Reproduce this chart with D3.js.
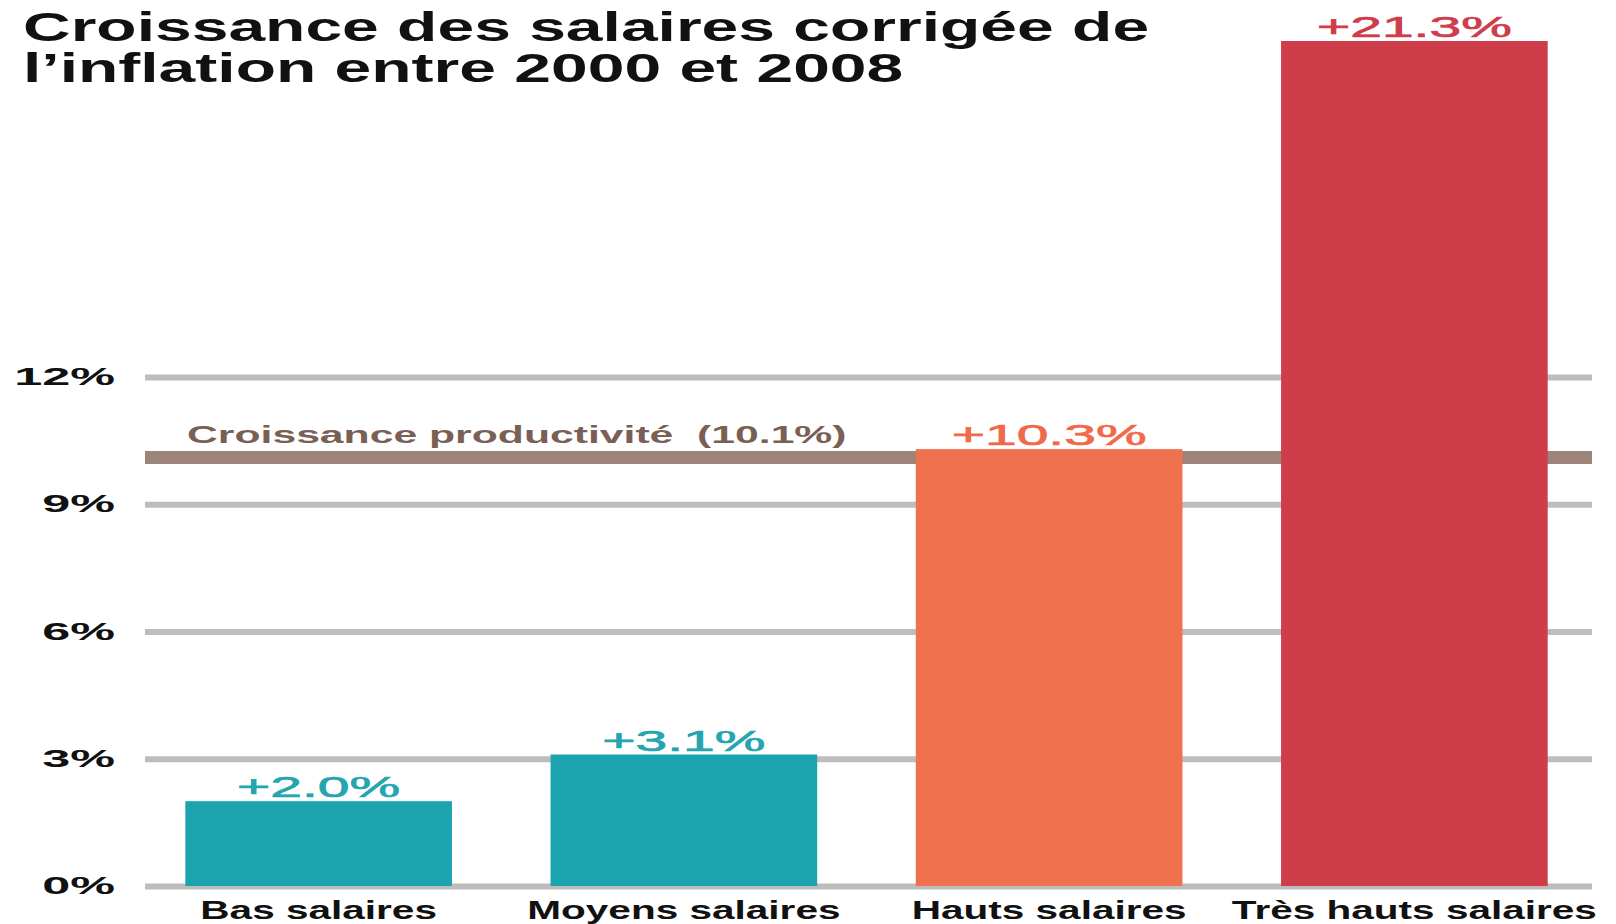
<!DOCTYPE html>
<html>
<head>
  <meta charset="utf-8">
  <script src="https://cdnjs.cloudflare.com/ajax/libs/d3/7.8.5/d3.min.js"></script>
  <style>
    body { margin: 0; background: #fff; }
    text { font-family: "Liberation Sans", Arial, Helvetica, sans-serif; }
  </style>
</head>
<body>
  <div id="chart"></div>

  <script>
    const categories = ['Bas salaires', 'Moyens salaires', 'Hauts salaires', 'Très hauts salaires'];
    const values = [2.0, 3.1, 10.3, 21.3];
    const labels = ['+2.0%', '+3.1%', '+10.3%', '+21.3%'];
    const barColors = ['#1ba4af', '#1ba4af', '#f0714d', '#cf3c4a'];
    const labelColors = ['#24a5b0', '#24a5b0', '#ef6a4a', '#cf3c4a'];
    const yTicks = [0, 3, 6, 9, 12];
    const productivity = 10.1;
    const productivityLabel = 'Croissance productivité  (10.1%)';
    const titleLines = ['Croissance des salaires corrigée de', 'l’inflation entre 2000 et 2008'];

    const width = 1616, height = 924;
    const GRID_LEFT = 145, GRID_RIGHT = 1592;
    const PLOT_TOP = 41;

    const svg = d3.select('#chart').append('svg')
      .attr('width', width)
      .attr('height', height);

    svg.append('rect').attr('width', width).attr('height', height).attr('fill', '#fff');

    const x = d3.scaleBand()
      .domain(categories)
      .range([136, 1597])
      .paddingInner(0.27)
      .paddingOuter(0.135);

    const y = d3.scaleLinear()
      .domain([0, 12])
      .range([886, 377]);

    // gridlines + tick labels
    const axis = svg.append('g')
      .attr('transform', `translate(${GRID_LEFT},0)`)
      .call(d3.axisLeft(y)
        .tickValues(yTicks)
        .tickFormat(d => d + '%')
        .tickSize(-(GRID_RIGHT - GRID_LEFT))
        .tickPadding(0));
    axis.select('.domain').remove();
    axis.selectAll('.tick line')
      .attr('stroke', '#bdbdbd')
      .attr('stroke-width', 6);
    axis.selectAll('.tick text')
      .attr('x', null)
      .attr('transform', 'translate(-30,0) scale(2.1,1)')
      .attr('fill', '#111')
      .style('font-size', '24px')
      .style('font-weight', 'bold');

    // productivity band
    svg.append('line')
      .attr('x1', GRID_LEFT).attr('x2', GRID_RIGHT)
      .attr('y1', y(productivity)).attr('y2', y(productivity))
      .attr('stroke', '#9d8479')
      .attr('stroke-width', 13);

    svg.append('text')
      .attr('transform', `translate(187,${y(productivity) - 15}) scale(1.78,1)`)
      .attr('fill', '#7a5f55')
      .style('font-size', '24px')
      .style('font-weight', 'bold')
      .style('white-space', 'pre')
      .text(productivityLabel);

    // bars (the tallest one is cut at the top of the frame)
    const barTop = v => Math.max(y(v), PLOT_TOP);

    svg.selectAll('rect.bar')
      .data(values)
      .join('rect')
      .attr('class', 'bar')
      .attr('x', (d, i) => x(categories[i]))
      .attr('width', x.bandwidth())
      .attr('y', d => barTop(d))
      .attr('height', d => y(0) - barTop(d))
      .attr('fill', (d, i) => barColors[i]);

    // value labels
    svg.selectAll('text.value')
      .data(values)
      .join('text')
      .attr('class', 'value')
      .attr('text-anchor', 'middle')
      .attr('transform', (d, i) => `translate(${x(categories[i]) + x.bandwidth() / 2},${barTop(d) - 4}) scale(1.9,1)`)
      .attr('fill', (d, i) => labelColors[i])
      .attr('stroke', (d, i) => labelColors[i])
      .attr('stroke-width', 0.7)
      .style('font-size', '30px')
      .text((d, i) => labels[i]);

    // category labels
    svg.selectAll('text.cat')
      .data(categories)
      .join('text')
      .attr('class', 'cat')
      .attr('text-anchor', 'middle')
      .attr('transform', d => `translate(${x(d) + x.bandwidth() / 2},919) scale(1.56,1)`)
      .attr('fill', '#111')
      .style('font-size', '26px')
      .style('font-weight', 'bold')
      .text(d => d);

    // title
    svg.selectAll('text.title')
      .data(titleLines)
      .join('text')
      .attr('class', 'title')
      .attr('transform', (d, i) => `translate(23,${41 + i * 41}) scale(1.65,1)`)
      .attr('fill', '#111')
      .style('font-size', '40px')
      .style('font-weight', 'bold')
      .text(d => d);
  </script>
</body>
</html>
